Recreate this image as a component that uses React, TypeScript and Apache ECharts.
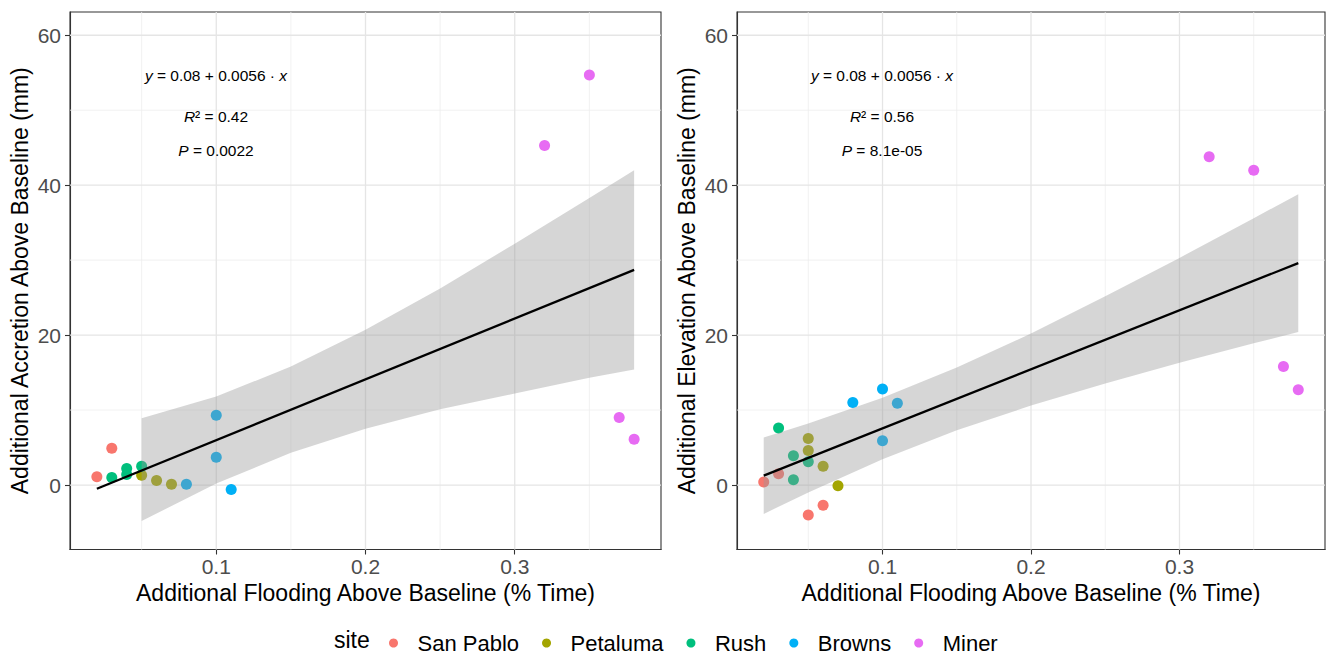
import React, { useEffect, useRef } from "react";
import * as echarts from "echarts";

const FONT = "'Liberation Sans', Arial, Helvetica, sans-serif";

const sites = ["San Pablo", "Petaluma", "Rush", "Browns", "Miner"];
const siteColors = ["#F8766D", "#A3A500", "#00BF7D", "#00B0F6", "#E76BF3"];

const xTicks = [0.1, 0.2, 0.3];
const yTicks = [0, 20, 40, 60];
const xMinor = [0.05, 0.15, 0.25, 0.35];
const yMinor = [10, 30, 50];

// Left panel: accretion (mm)
const accX: number[][] = [
  [0.02, 0.03],
  [0.05, 0.06, 0.07],
  [0.03, 0.04, 0.04, 0.05],
  [0.08, 0.1, 0.1, 0.11],
  [0.32, 0.35, 0.37, 0.38],
];
const accY: number[][] = [
  [1.1, 4.9],
  [1.3, 0.6, 0.1],
  [1.0, 1.4, 2.2, 2.5],
  [0.1, 9.3, 3.7, -0.6],
  [45.3, 54.7, 9.0, 6.1],
];
const accFitX = [0.02, 0.38];
const accFitY = [-0.5, 28.7];
const accBandX = [0.05, 0.1, 0.15, 0.2, 0.25, 0.3, 0.35, 0.38];
const accBandLo = [-4.8, 0.2, 4.3, 7.5, 10.1, 12.2, 14.3, 15.4];
const accBandHi = [8.9, 11.8, 15.8, 20.7, 26.2, 32.2, 38.3, 42.0];
const accStats = ["{i|y} = 0.08 + 0.0056 · {i|x}", "{i|R}² = 0.42", "{i|P} = 0.0022"];

// Right panel: elevation (mm)
const elevX: number[][] = [
  [0.02, 0.03, 0.05, 0.06],
  [0.05, 0.05, 0.06, 0.07],
  [0.03, 0.04, 0.04, 0.05],
  [0.08, 0.1, 0.11, 0.1],
  [0.32, 0.35, 0.37, 0.38],
];
const elevY: number[][] = [
  [0.4, 1.5, -4.0, -2.7],
  [6.2, 4.6, 2.5, -0.1],
  [7.6, 3.9, 0.7, 3.1],
  [11.0, 12.8, 10.9, 5.9],
  [43.8, 42.0, 15.8, 12.7],
];
const elevFitX = [0.02, 0.38];
const elevFitY = [1.25, 29.6];
const elevBandX = [0.02, 0.05, 0.1, 0.15, 0.2, 0.25, 0.3, 0.35, 0.38];
const elevBandLo = [-3.85, -0.98, 3.45, 7.3, 10.6, 13.56, 16.3, 18.9, 20.4];
const elevBandHi = [6.35, 8.2, 11.65, 15.68, 20.2, 25.18, 30.3, 35.6, 38.8];
const elevStats = ["{i|y} = 0.08 + 0.0056 · {i|x}", "{i|R}² = 0.56", "{i|P} = 8.1e-05"];

const xTitle = "Additional Flooding Above Baseline (% Time)";
const yTitles = ["Additional Accretion Above Baseline (mm)", "Additional Elevation Above Baseline (mm)"];
const legendTitle = "site";

const X_MIN = 0.002;
const X_MAX = 0.398;
const Y_MIN = -8.6;
const Y_MAX = 63.1;

function gridSeries(idx: number) {
  return {
    type: "custom",
    xAxisIndex: idx,
    yAxisIndex: idx,
    silent: true,
    z: 1,
    data: [[xTicks[1], yTicks[1]]],
    renderItem: (params: any, api: any) => {
      const cs = params.coordSys;
      const children: any[] = [];
      const vline = (v: number, w: number, c: string) => {
        const px = api.coord([v, 0])[0];
        children.push({
          type: "line",
          shape: { x1: px, y1: cs.y, x2: px, y2: cs.y + cs.height },
          style: { stroke: c, lineWidth: w },
        });
      };
      const hline = (v: number, w: number, c: string) => {
        const py = api.coord([0.2, v])[1];
        children.push({
          type: "line",
          shape: { x1: cs.x, y1: py, x2: cs.x + cs.width, y2: py },
          style: { stroke: c, lineWidth: w },
        });
      };
      xMinor.forEach((v) => vline(v, 0.8, "#EEEEEE"));
      yMinor.forEach((v) => hline(v, 0.8, "#EEEEEE"));
      xTicks.forEach((v) => vline(v, 1.3, "#E5E5E5"));
      yTicks.forEach((v) => hline(v, 1.3, "#E5E5E5"));
      return { type: "group", children };
    },
  };
}

function bandSeries(idx: number, bx: number[], lo: number[], hi: number[]) {
  return {
    type: "custom",
    xAxisIndex: idx,
    yAxisIndex: idx,
    silent: true,
    z: 3,
    data: bx.map((x, i) => [x, lo[i], hi[i]]),
    encode: { x: 0, y: [1, 2] },
    renderItem: (params: any, api: any) => {
      if (params.dataIndex !== 0) return null;
      const upper = bx.map((x, i) => api.coord([x, hi[i]]));
      const lower = bx.map((x, i) => api.coord([x, lo[i]])).reverse();
      return {
        type: "polygon",
        shape: { points: upper.concat(lower) },
        style: { fill: "rgba(153,153,153,0.4)", stroke: "none" },
      };
    },
  };
}

function xAxis(idx: number) {
  return {
    type: "value",
    gridIndex: idx,
    min: X_MIN,
    max: X_MAX,
    axisLine: { show: true, onZero: false, lineStyle: { color: "#333", width: 1.1 } },
    axisTick: { show: true, length: 5, lineStyle: { color: "#333", width: 1.1 }, customValues: xTicks },
    axisLabel: {
      customValues: xTicks,
      color: "#4D4D4D",
      fontSize: 21,
      fontFamily: FONT,
      margin: 6,
      formatter: (v: number) => String(v),
    },
    splitLine: { show: false },
    name: xTitle,
    nameLocation: "middle",
    nameGap: 31,
    nameTextStyle: { color: "#000", fontSize: 23, fontFamily: FONT },
  };
}

function yAxis(idx: number) {
  return {
    type: "value",
    gridIndex: idx,
    min: Y_MIN,
    max: Y_MAX,
    axisLine: { show: true, onZero: false, lineStyle: { color: "#333", width: 1.1 } },
    axisTick: { show: true, length: 5, lineStyle: { color: "#333", width: 1.1 }, customValues: yTicks },
    axisLabel: {
      customValues: yTicks,
      color: "#4D4D4D",
      fontSize: 21,
      fontFamily: FONT,
      margin: 9,
      formatter: (v: number) => String(v),
    },
    splitLine: { show: false },
    name: yTitles[idx],
    nameLocation: "middle",
    nameGap: 39,
    nameTextStyle: { color: "#000", fontSize: 23, fontFamily: FONT },
  };
}

function annotation(x: number, y: number, text: string) {
  return {
    type: "text",
    x,
    y,
    z: 100,
    style: {
      text,
      fill: "#000",
      fontSize: 15.5,
      fontFamily: FONT,
      align: "center",
      textAlign: "center",
      verticalAlign: "middle",
      textVerticalAlign: "middle",
      rich: {
        i: { fontStyle: "italic", fontSize: 15.5, fontFamily: FONT, fill: "#000" },
      },
    },
  };
}

export default function App() {
  const ref = useRef<HTMLDivElement>(null);

  useEffect(() => {
    document.body.style.margin = "0";
    if (!ref.current) return;
    const chart = echarts.init(ref.current, null, { renderer: "svg" });

    const series: any[] = [gridSeries(0), gridSeries(1)];
    const panels = [
      { xs: accX, ys: accY, fx: accFitX, fy: accFitY, bx: accBandX, lo: accBandLo, hi: accBandHi },
      { xs: elevX, ys: elevY, fx: elevFitX, fy: elevFitY, bx: elevBandX, lo: elevBandLo, hi: elevBandHi },
    ];
    panels.forEach((p, idx) => {
      sites.forEach((s, si) => {
        series.push({
          type: "scatter",
          name: s,
          xAxisIndex: idx,
          yAxisIndex: idx,
          symbol: "circle",
          symbolSize: 11,
          itemStyle: { color: siteColors[si], opacity: 1 },
          z: 2,
          data: p.xs[si].map((x, i) => [x, p.ys[si][i]]),
        });
      });
      series.push(bandSeries(idx, p.bx, p.lo, p.hi));
      series.push({
        type: "line",
        xAxisIndex: idx,
        yAxisIndex: idx,
        showSymbol: false,
        symbol: "none",
        z: 4,
        lineStyle: { color: "#000", width: 2.3 },
        data: p.fx.map((x, i) => [x, p.fy[i]]),
      });
    });

    const annY = [75, 116, 150];

    chart.setOption({
      animation: false,
      textStyle: { fontFamily: FONT },
      grid: [
        { left: 70, top: 12, width: 591, height: 537.5, show: true, borderColor: "#333", borderWidth: 1.1, backgroundColor: "transparent" },
        { left: 737, top: 12, width: 588, height: 537.5, show: true, borderColor: "#333", borderWidth: 1.1, backgroundColor: "transparent" },
      ],
      xAxis: [xAxis(0), xAxis(1)],
      yAxis: [yAxis(0), yAxis(1)],
      legend: {
        data: sites,
        left: 384,
        top: 627,
        icon: "circle",
        itemWidth: 38,
        itemHeight: 9,
        itemGap: 23,
        selectedMode: false,
        textStyle: { fontSize: 22, color: "#000", fontFamily: FONT },
      },
      graphic: [
        ...accStats.map((t, i) => annotation(216, annY[i], t)),
        ...elevStats.map((t, i) => annotation(882, annY[i], t)),
        {
          type: "text",
          left: 334,
          top: 628,
          style: { text: legendTitle, fill: "#000", fontSize: 23, fontFamily: FONT },
        },
      ],
      series,
    });

    return () => chart.dispose();
  }, []);

  return <div ref={ref} style={{ width: 1327, height: 657 }} />;
}
